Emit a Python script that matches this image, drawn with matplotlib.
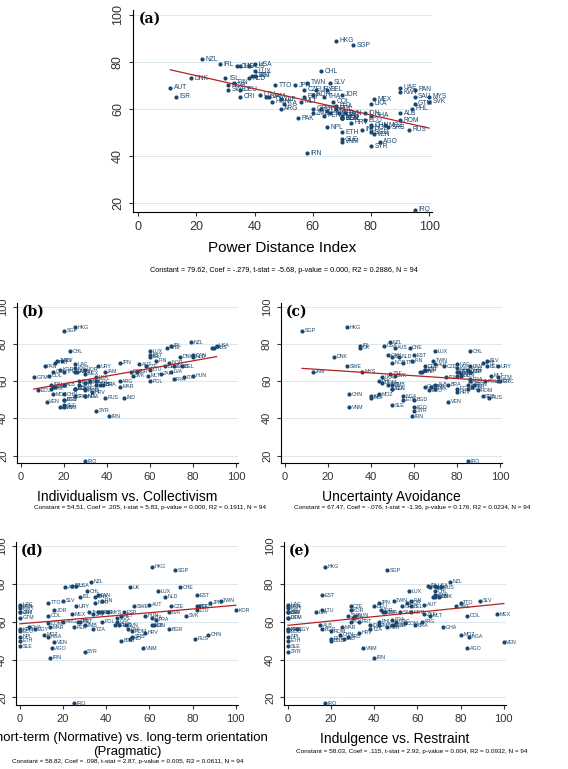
import numpy as np
import matplotlib
matplotlib.use("Agg")
import matplotlib.pyplot as plt

plt.rcParams["font.family"] = ["Liberation Sans", "DejaVu Sans"]

# country code, outcome score, PDI, IDV, UAI, LTO, IVR
codes = ["HKG","SGP","NZL","IRL","UK","USA","AUS","LUX","CHL","EST","DNK","ISL","FIN","NOR",
         "SWE","CAN","NLD","CHE","BEL","JPN","TWN","SLV","TTO","AUT","ISR","DEU","CZE","FRA",
         "ESP","ITA","MLT","CRI","URY","ARG","PAN","UAE","KWT","SAU","MYS","GTM","PHL","MEX",
         "LKA","COL","JOR","GRC","PRT","POL","HUN","HRV","BRA","ZAF","ALB","GHA","ROM","RUS",
         "IND","CHN","VNM","SLE","AGO","SYR","IRN","IRQ","PAK","NPL","ETH","BGD","VEN","SRB",
         "SVK","SVN","BGR","LTU","LVA","MAR","NGA","MOZ","KEN","TZA","ZMB","EGY","TUR","THA",
         "KOR","IDN","ECU","PER","DOM","JAM"]
score = [89,87,81,79,78,79,78,76,76,74,73,73,71,70,68,74,73,78,68,70,71,71,70,69,65,68,68,61,
         65,62,63,65,68,60,68,69,67,65,65,62,60,64,62,63,66,60,60,60,63,54,58,64,58,57,55,51,
         51,53,46,47,46,44,41,17,56,52,50,50,49,52,63,58,56,66,65,57,52,53,56,56,58,56,58,65,
         66,58,55,57,59,65]
pdi = [68,74,22,28,35,40,38,40,63,40,18,30,33,31,31,39,38,34,65,54,58,66,47,11,13,35,57,68,
       57,50,56,35,61,49,95,90,90,95,100,95,94,81,80,67,70,60,63,68,46,73,69,49,90,80,90,93,
       77,80,70,70,83,80,58,95,55,65,70,80,81,86,100,71,70,42,44,70,80,85,70,70,60,70,66,64,
       60,78,78,64,65,45]
idv = [25,20,79,70,89,91,90,60,23,60,74,60,63,69,71,80,80,68,75,46,17,19,16,55,54,67,58,71,
       51,76,59,15,36,46,11,25,25,25,26,6,32,30,35,13,30,35,27,60,80,33,38,65,20,15,30,39,
       48,20,20,20,18,35,41,30,14,30,20,20,12,25,52,27,30,60,70,46,30,15,25,25,35,25,37,20,
       18,14,8,16,30,39]
uai = [29,8,49,35,35,46,51,70,86,60,23,50,59,50,29,48,53,58,94,92,69,94,55,70,81,65,74,86,
       86,75,96,86,99,86,86,80,80,80,36,99,44,82,45,80,65,100,99,93,82,80,76,49,70,65,90,95,
       40,30,30,50,60,60,59,85,70,40,55,60,76,92,51,88,85,65,63,68,55,44,50,50,50,80,85,64,
       85,48,67,87,45,13]
lto = [61,72,33,24,51,26,21,64,31,82,35,28,38,35,53,36,67,74,82,88,93,20,13,60,38,83,70,63,
       48,61,47,0,26,20,0,0,0,36,41,0,27,24,45,13,16,45,28,38,58,58,44,34,61,4,52,81,
       51,87,57,0,15,30,14,25,50,0,0,47,16,52,77,49,69,82,69,14,13,11,0,34,30,7,46,32,
       100,62,0,25,13,0]
ivr = [17,46,75,65,69,68,71,56,68,16,70,67,57,55,78,68,68,66,57,42,49,89,80,63,0,40,29,48,
       44,30,66,0,53,62,0,0,0,52,57,0,42,97,0,83,43,50,33,29,31,33,59,63,15,72,20,20,
       26,24,35,0,83,0,40,17,0,0,0,20,100,28,28,48,16,16,13,25,84,80,0,38,42,4,49,45,
       29,38,0,46,54,0]

dims = [pdi, idv, uai, lto, ivr]
xlabels = ["Power Distance Index", "Individualism vs. Collectivism", "Uncertainty Avoidance",
           "Short-term (Normative) vs. long-term orientation\n(Pragmatic)", "Indulgence vs. Restraint"]
letters = ["(a)", "(b)", "(c)", "(d)", "(e)"]
consts = [79.62, 54.51, 67.47, 58.82, 58.03]
coefs = [-0.279, 0.205, -0.076, 0.098, 0.115]
notes = ["Constant = 79.62, Coef = -.279, t-stat = -5.68, p-value = 0.000, R2 = 0.2886, N = 94",
         "Constant = 54.51, Coef = .205, t-stat = 5.83, p-value = 0.000, R2 = 0.1911, N = 94",
         "Constant = 67.47, Coef = -.076, t-stat = -1.36, p-value = 0.176, R2 = 0.0234, N = 94",
         "Constant = 58.82, Coef = .098, t-stat = 2.87, p-value = 0.005, R2 = 0.0611, N = 94",
         "Constant = 58.03, Coef = .115, t-stat = 2.92, p-value = 0.004, R2 = 0.0932, N = 94"]

W, H = 568, 769
# axes boxes in pixels: left, top, width, height
boxes = [(133, 10, 299, 202), (17, 303, 221, 160), (281, 303, 221, 160),
         (16, 542, 222, 163), (284, 542, 222, 163)]
note_pos = [(284, 270), (150, 508), (412, 508), (128, 762), (412, 752)]
label_size = [11, 10, 10, 9.5, 10]

fig = plt.figure(figsize=(W / 100, H / 100), dpi=100)
navy = "#1a476f"
for i in range(5):
    l, t, w, h = boxes[i]
    ax = fig.add_axes([l / W, 1 - (t + h) / H, w / W, h / H])
    x = np.array(dims[i], dtype=float)
    y = np.array(score, dtype=float)
    ax.scatter(x, y, s=9, color=navy, zorder=3, linewidths=0)
    for c, xi, yi in zip(codes, x, y):
        ax.text(xi + 1.2, yi, c, fontsize=3.8 if i else 4.8, color=navy, va="center", zorder=3)
    xs = np.array([x.min(), x.max()])
    ax.plot(xs, consts[i] + coefs[i] * xs, color="#b22222", lw=0.9, zorder=4)
    ax.set_xlim(-1.8, 101)
    ax.set_ylim(16, 102)
    ax.set_xticks([0, 20, 40, 60, 80, 100])
    ax.set_yticks([20, 40, 60, 80, 100])
    ax.tick_params(labelsize=9 if i == 0 else 8, length=3, colors="#333333")
    for tl in ax.get_yticklabels():
        tl.set_rotation(90)
        tl.set_va("center")
    ax.grid(axis="y", color="#d6e4ee", lw=0.6)
    ax.set_axisbelow(True)
    ax.spines["top"].set_visible(False)
    ax.spines["right"].set_visible(False)
    ax.set_xlabel(xlabels[i], fontsize=label_size[i], labelpad=6)
    ax.text(0.02, 0.99, letters[i], transform=ax.transAxes, fontsize=10, fontweight="bold",
            family="DejaVu Serif", va="top")
    nx, ny = note_pos[i]
    fig.text(nx / W, 1 - ny / H, notes[i], fontsize=5.2 if i == 0 else 4.6,
             ha="center", va="center")

fig.savefig("out.png", dpi=100)
